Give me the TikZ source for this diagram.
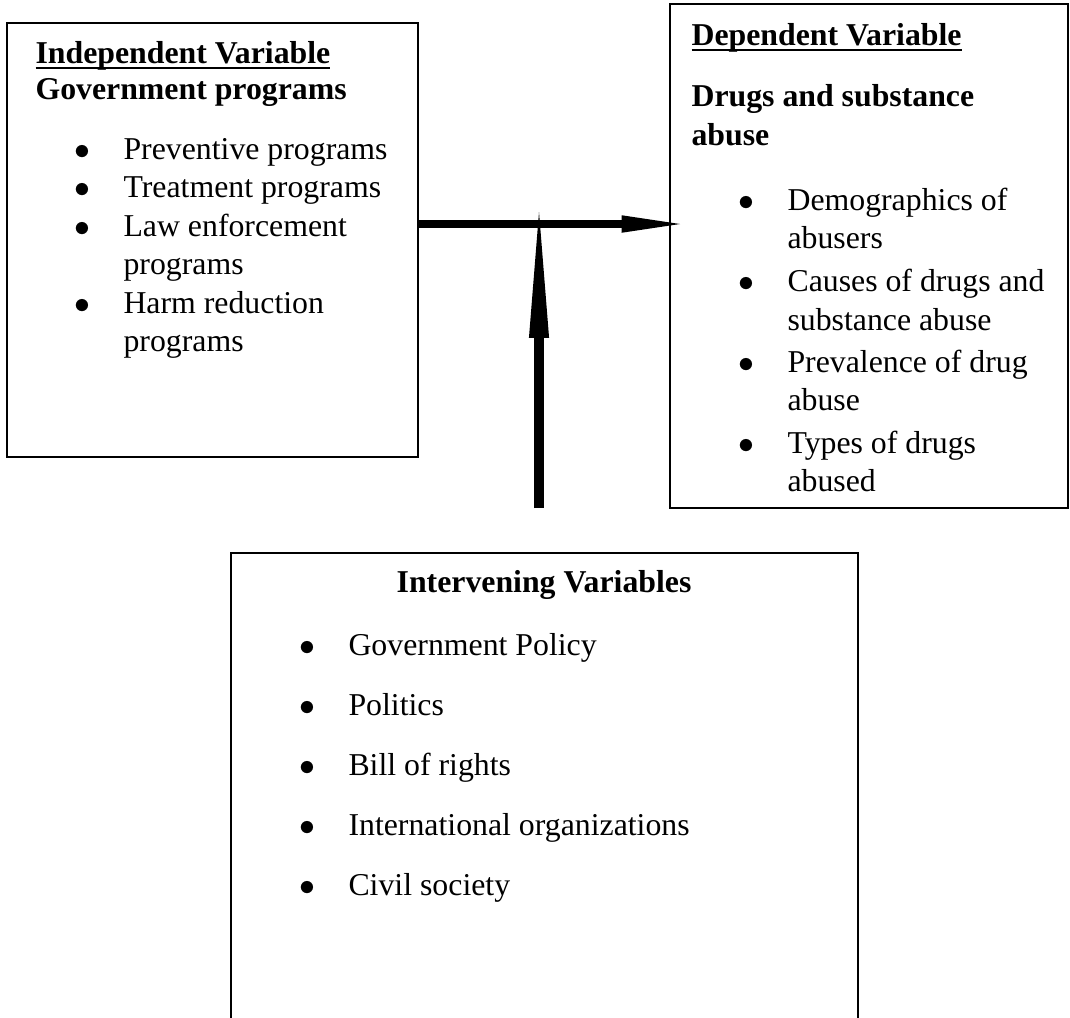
\documentclass[tikz,border=0pt]{standalone}
\usepackage{fontspec}
\setmainfont{Liberation Serif}
\usepackage{tikz}
\usetikzlibrary{arrows.meta,positioning,fit}
\newcommand{\ulhead}[1]{\setbox0\hbox{\bfseries #1}\rlap{\rule[-2.4pt]{\wd0}{0.9pt}}\box0}

\begin{document}
\begin{tikzpicture}[x=0.3774pt, y=-0.3774pt, font=\fontsize{12}{14.5}\selectfont,
  varbox/.style={draw, line width=0.75pt, inner sep=0pt},
  txt/.style={anchor=base west, inner sep=0pt},
  bul/.style={anchor=base, inner sep=0pt, font=\fontsize{12}{12}\selectfont},
  flow/.style={line width=3pt, -{Triangle[length=22pt, width=6.6pt, line width=0pt]}},
  lift/.style={line width=3.8pt, -{Triangle[length=47.5pt, width=7.6pt, line width=0pt]}}]
\useasboundingbox (0,0) rectangle (1070,1017);
\clip (0,0) rectangle (1070,1017);
% boxes
\node[varbox, fit={(7,23) (418,457)}] (indep) {};
\node[varbox, fit={(670,4) (1068,508)}] (dep) {};
\node[varbox, fit={(231,553) (858,1060)}] (inter) {};
% independent variable
\node[txt] (indtitle) at (35,63) {\ulhead{Independent Variable}};
\node[txt] (indname) at (35,99) {\textbf{Government programs}};
\node[bul] (ib1) at (82,159) {$\bullet$};
\node[txt] (it1) at (123,159) {Preventive programs};
\node[bul] (ib2) at (82,197.5) {$\bullet$};
\node[txt] (it2) at (123,197.5) {Treatment programs};
\node[bul] (ib3) at (82,236) {$\bullet$};
\node[txt] (it3) at (123,236) {Law enforcement};
\node[txt] (it3b) at (123,274.5) {programs};
\node[bul] (ib4) at (82,313) {$\bullet$};
\node[txt] (it4) at (123,313) {Harm reduction};
\node[txt] (it4b) at (123,351.5) {programs};
% dependent variable
\node[txt] (deptitle) at (691,45) {\ulhead{Dependent Variable}};
\node[txt] (depname) at (691,106) {\textbf{Drugs and substance}};
\node[txt] (depnameb) at (691,145) {\textbf{abuse}};
\node[bul] (db1) at (746,210) {$\bullet$};
\node[txt] (dt1) at (787,210) {Demographics of};
\node[txt] (dt1b) at (787,248) {abusers};
\node[bul] (db2) at (746,291) {$\bullet$};
\node[txt] (dt2) at (787,291) {Causes of drugs and};
\node[txt] (dt2b) at (787,330) {substance abuse};
\node[bul] (db3) at (746,372) {$\bullet$};
\node[txt] (dt3) at (787,372) {Prevalence of drug};
\node[txt] (dt3b) at (787,410) {abuse};
\node[bul] (db4) at (746,453) {$\bullet$};
\node[txt] (dt4) at (787,453) {Types of drugs};
\node[txt] (dt4b) at (787,491) {abused};
% intervening variables
\node[anchor=base, inner sep=0pt] (invtitle) at (544,592) {\textbf{Intervening Variables}};
\node[bul] (vb1) at (307,655) {$\bullet$};
\node[txt] (vt1) at (348,655) {Government Policy};
\node[bul] (vb2) at (307,715) {$\bullet$};
\node[txt] (vt2) at (348,715) {Politics};
\node[bul] (vb3) at (307,775) {$\bullet$};
\node[txt] (vt3) at (348,775) {Bill of rights};
\node[bul] (vb4) at (307,835) {$\bullet$};
\node[txt] (vt4) at (348,835) {International organizations};
\node[bul] (vb5) at (307,895) {$\bullet$};
\node[txt] (vt5) at (348,895) {Civil society};
% arrows
\coordinate (tip) at (680,224);
\coordinate (vfoot) at (539,508);
\coordinate (vtip) at (539,212);
\draw[flow] (indep.east |- tip) -- (tip);
\draw[lift] (vfoot) -- (vtip);
\end{tikzpicture}
\end{document}
